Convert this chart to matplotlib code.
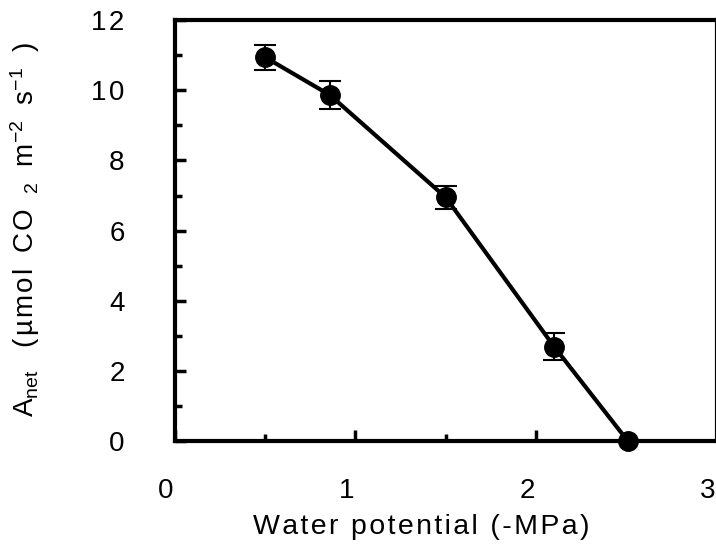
import numpy as np
import matplotlib
matplotlib.use("Agg")
import matplotlib.pyplot as plt
from matplotlib.ticker import MultipleLocator
from matplotlib.transforms import ScaledTranslation

plt.rcParams["font.family"] = ["Liberation Sans", "DejaVu Sans"]
plt.rcParams["mathtext.fontset"] = "custom"
plt.rcParams["mathtext.rm"] = "Liberation Sans"
plt.rcParams["mathtext.it"] = "Liberation Sans"

# Net assimilation vs. leaf water potential
water_potential = [0.50, 0.86, 1.50, 2.10, 2.51]
a_net = [10.94, 9.86, 6.95, 2.70, 0.0]
a_net_err = [0.36, 0.39, 0.33, 0.39, 0.0]
y_ticks = [0, 2, 4, 6, 8, 10, 12]

HS = "\u200a"  # hair space, the original text is loosely letter-spaced


def spaced(s):
    return HS.join(s)


fig = plt.figure(figsize=(7.16, 5.46), dpi=100)
ax = fig.add_axes([0.2440, 0.1914, 0.7570, 0.7720])

ax.errorbar(
    water_potential,
    a_net,
    yerr=a_net_err,
    fmt="o-",
    color="black",
    ms=14,
    lw=3,
    elinewidth=1.5,
    capsize=8,
    capthick=1.5,
    clip_on=False,
    zorder=3,
)

ax.set_xlim(0, 3)
ax.set_ylim(0, 12)
ax.xaxis.set_major_locator(MultipleLocator(1))
ax.xaxis.set_minor_locator(MultipleLocator(0.5))
ax.set_yticks(y_ticks, labels=[spaced(str(v)) for v in y_ticks])
ax.yaxis.set_minor_locator(MultipleLocator(1))

for side in ["left", "bottom", "top", "right"]:
    ax.spines[side].set_linewidth(3)

ax.tick_params(which="both", direction="in", width=2.5, labelsize=20)
ax.tick_params(which="major", length=8)
ax.tick_params(which="minor", length=5)
ax.tick_params(axis="x", pad=26)
ax.tick_params(axis="y", pad=36)

# x tick labels sit a little left of their ticks in the original
offset = ScaledTranslation(-9 / 100, 0, fig.dpi_scale_trans)
for label in ax.xaxis.get_majorticklabels():
    label.set_transform(label.get_transform() + offset)

fig.text(421 / 716, 1 - 527 / 546, spaced("Water potential (-MPa)"),
         ha="center", va="center", fontsize=20.5)
ylab = (r"A$_{\rm net}$" + "   " + spaced("(µmol") + "  " + spaced("CO")
        + "  " + r"$_2$" + "  " + "m" + r"$^{-2}$" + "  " + "s"
        + r"$^{-1}$" + "  " + ")")
fig.text(25 / 716, 1 - 230 / 546, ylab,
         ha="center", va="center", rotation=90, fontsize=20)

fig.savefig("out.png", dpi=100)
